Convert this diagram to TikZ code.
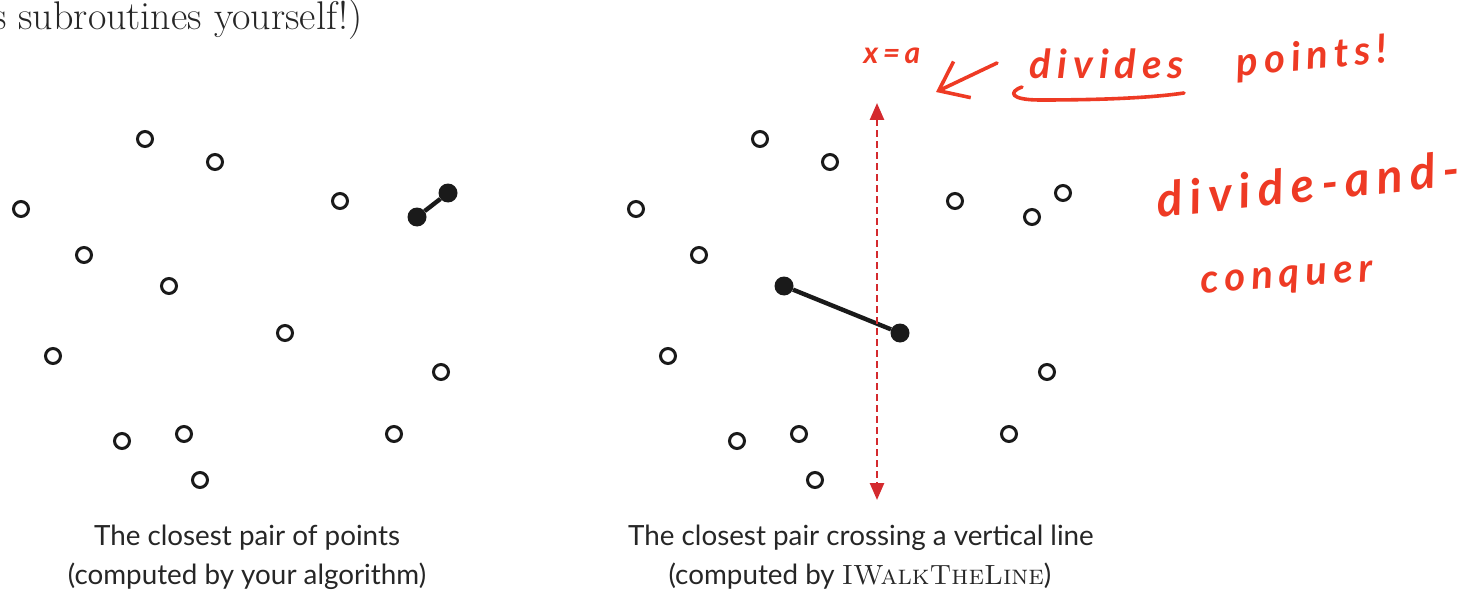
\documentclass[tikz,border=0pt]{standalone}
\usepackage{fontspec}
\usepackage{tikz}
\usetikzlibrary{calc, positioning, arrows.meta}
\newfontfamily\captionFont{Lato}
\newfontfamily\handFont[LetterSpace=15]{Lato}
\definecolor{inkBlack}{HTML}{1A1A1A}
\definecolor{textGray}{HTML}{262626}
\definecolor{penRed}{HTML}{EE3A24}
\definecolor{lineRed}{HTML}{D42A2E}
\newcommand{\algName}{{\rmfamily\textsc{IWalkTheLine}}}

\begin{document}
\begin{tikzpicture}[x=1pt, y=-1pt,
    openPt/.style={circle, draw=inkBlack, line width=3pt, minimum size=15pt, inner sep=0pt},
    hitPt/.style={circle, fill=inkBlack, minimum size=19pt, inner sep=0pt},
    pairLink/.style={draw=inkBlack, line width=4.4pt},
    capText/.style={text=textGray, font=\captionFont\fontsize{27.8}{30}\selectfont, anchor=base, inner sep=0pt},
    scrawl/.style={text=penRed, font=\handFont\bfseries\itshape\fontsize{40}{40}\selectfont, inner sep=0pt},
    penStroke/.style={draw=penRed, line width=3.6pt, line cap=round, line join=round}]

  \useasboundingbox (0,0) rectangle (1483,591);
  \clip (0,0) rectangle (1483,591);

  % tail of the running text above
  \node[anchor=base west, inner sep=0pt, text=textGray, font=\fontsize{40}{46}\selectfont] (prose) at (-8,30) {s subroutines yourself!)};

  % left panel: closest pair overall
  \foreach \px/\py [count=\i] in {145/139, 215/162, 21/209, 340/201, 84/255, 169/286, 285/333, 53/356, 441/372, 122/441, 184/434, 394/434, 200/480}
    \node[openPt] (lp\i) at (\px,\py) {};
  \node[hitPt] (lpA) at (417,217) {};
  \node[hitPt] (lpB) at (448,193) {};
  \draw[pairLink] (lpA) -- (lpB);

  % right panel: closest pair across x = a
  \begin{scope}[xshift=615pt]
    \foreach \px/\py [count=\i] in {145/139, 215/162, 21/209, 340/201, 84/255, 417/217, 448/193, 53/356, 432/372, 122/441, 184/434, 394/434, 200/480}
      \node[openPt] (rp\i) at (\px,\py) {};
    \node[hitPt] (rpA) at (169,286) {};
    \node[hitPt] (rpB) at (285,333) {};
    \draw[pairLink] (rpA) -- (rpB);
    \coordinate (cutTop) at (262,103);
    \coordinate (cutBot) at (262,500);
    \draw[lineRed, line width=2.6pt, dash pattern=on 7pt off 4pt,
          {Triangle[width=14pt,length=17pt]}-{Triangle[width=14pt,length=17pt]}] (cutTop) -- (cutBot);
  \end{scope}

  % captions
  \node[capText] (capL1) at (247,545) {The closest pair of points};
  \node[capText] (capL2) at (247,584) {(computed by your algorithm)};
  \node[capText] (capR1) at (861,545) {The closest pair crossing a vertical line};
  \node[capText] (capR2) at (860,584) {(computed by \algName)};

  % handwritten notes
  \node[scrawl, font=\handFont\bfseries\itshape\fontsize{30}{30}\selectfont] (xEqA) at (892,56) {x=a};
  \node[scrawl] (divides) at (1107,64) {divides};
  \node[scrawl, rotate=5] (points) at (1312,58) {points!};
  \node[scrawl, rotate=6, font=\handFont\bfseries\itshape\fontsize{48}{48}\selectfont] (dac) at (1308,184) {divide-and-};
  \node[scrawl, rotate=4] (conquer) at (1287,280) {conquer};
  \coordinate (nudgeTail) at (997,63);
  \coordinate (nudgeTip) at (936,92);
  \draw[penStroke, -{Straight Barb[length=26pt, width=40pt]}] (nudgeTail) -- (nudgeTip);
  \draw[penStroke] (1022,87) .. controls (1008,92) and (1010,100) .. (1040,100)
                   .. controls (1100,100) and (1150,98) .. (1184,93);
\end{tikzpicture}
\end{document}
